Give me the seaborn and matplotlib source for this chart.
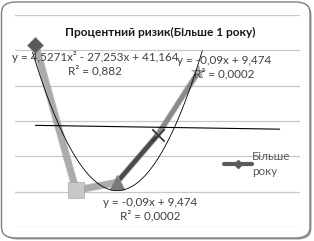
import numpy as np
import pandas as pd
import matplotlib
matplotlib.use("Agg")
import matplotlib.pyplot as plt
import seaborn as sns
from matplotlib.patches import FancyBboxPatch
from matplotlib.lines import Line2D

sns.set_theme(style="white")
plt.rcParams['font.family'] = ['Lato', 'Open Sans', 'DejaVu Sans']

# data
periods = [1, 2, 3, 4, 5]
values = [20.8, 0.2, 1.3, 8.0, 16.9]
series_name = "Більше\nроку"
title = "Процентний ризик(Більше 1 року)"
poly_coef = [4.5271, -27.253, 41.164]
lin_coef = [-0.09, 9.474]
poly_label = "y = 4,5271x² - 27,253x + 41,164\nR² = 0,882"
lin_label = "y = -0,09x + 9,474\nR² = 0,0002"
yticks = [-5, 0, 5, 10, 15, 20, 25]

seg_colors = ["#ababab", "#ababab", "#4a4a4a", "#8a8a8a"]
marker_styles = ["D", "s", "^", "x", "*"]
marker_colors = ["#5a5a5a", "#c8c8c8", "#7a7a7a", "#3a3a3a", "#b4b4b4"]
marker_sizes = [70, 120, 120, 80, 110]

df = pd.DataFrame({"x": periods, "y": values})

W, H = 314, 241
fig = plt.figure(figsize=(W / 100, H / 100), dpi=100)
fig.patch.set_facecolor("white")

# frame with shadow
shadow = FancyBboxPatch((3.5 / W, 1.5 / H), (W - 6) / W, (H - 5) / H,
                        boxstyle="round,pad=0,rounding_size=0.045",
                        transform=fig.transFigure, facecolor="#9a9a9a",
                        edgecolor="none", zorder=-2)
frame = FancyBboxPatch((1.5 / W, 3 / H), (W - 5.5) / W, (H - 5) / H,
                       boxstyle="round,pad=0,rounding_size=0.045",
                       transform=fig.transFigure, facecolor="white",
                       edgecolor="#7f7f7f", linewidth=1.0, zorder=-1)
fig.patches.extend([shadow, frame])

ax = fig.add_axes([15 / W, (H - 227) / H, 285 / W, 212 / H])
ax.set_zorder(1)
ax.set_facecolor("none")
ax.set_xlim(0.5, 7.5)
ax.set_ylim(-5, 25)
ax.set_yticks(yticks)
ax.set_xticks([])
ax.yaxis.grid(True, color="#c8c8c8", linewidth=0.9)
ax.tick_params(left=False, labelleft=False)
for s in ax.spines.values():
    s.set_visible(False)

# series segments with shadow
for i in range(len(periods) - 1):
    seg = df.iloc[i:i + 2]
    lw = 4.2 if i < 2 else 3.2
    sns.lineplot(data=seg, x="x", y="y", ax=ax, color="#707070", linewidth=lw + 1.2,
                 alpha=0.45, zorder=2, legend=False)
    sns.lineplot(data=seg, x="x", y="y", ax=ax, color=seg_colors[i], linewidth=lw,
                 zorder=3, legend=False)

for i in range(len(periods)):
    pt = df.iloc[[i]]
    is_x = marker_styles[i] == "x"
    sns.scatterplot(data=pt, x="x", y="y", ax=ax, marker=marker_styles[i],
                    color=marker_colors[i], s=marker_sizes[i],
                    linewidth=1.3 if is_x else 0.4,
                    edgecolor=None if is_x else "#9a9a9a",
                    zorder=4, legend=False)

# trendlines
xp = np.linspace(0.93, 5.1, 200)
ax.plot(xp, np.polyval(poly_coef, xp), color="black", linewidth=0.6, zorder=5)
xl = np.array([1, 7])
ax.plot(xl, np.polyval(lin_coef, xl), color="black", linewidth=0.8, zorder=5)
ax.set_xlabel("")
ax.set_ylabel("")

# labels
fig.text(160 / W, 1 - 32 / H, title, ha="center", va="center",
         fontsize=8.6, fontweight="bold", color="#1a1a1a")
fig.text(95 / W, 1 - 64 / H, poly_label, ha="center", va="center",
         fontsize=8.4, color="#404040", linespacing=1.15)
fig.text(224 / W, 1 - 67 / H, lin_label, ha="center", va="center",
         fontsize=8.4, color="#404040", linespacing=1.15)
fig.text(150 / W, 1 - 209 / H, lin_label, ha="center", va="center",
         fontsize=8.4, color="#404040", linespacing=1.15)

# legend
handle = Line2D([0], [0], color="#5a5a5a", linewidth=3, marker="D",
                markersize=4.5, markerfacecolor="#5a5a5a")
leg = ax.legend([handle], [series_name], loc="center left",
                bbox_to_anchor=(224 / W, 1 - 164 / H), bbox_transform=fig.transFigure,
                frameon=False, fontsize=8.4, handlelength=2.4, handletextpad=0.0,
                borderaxespad=0, borderpad=0, labelspacing=0)
for t in leg.get_texts():
    t.set_color("#595959")
    t.set_linespacing(1.5)

fig.savefig("out.png", dpi=100)
